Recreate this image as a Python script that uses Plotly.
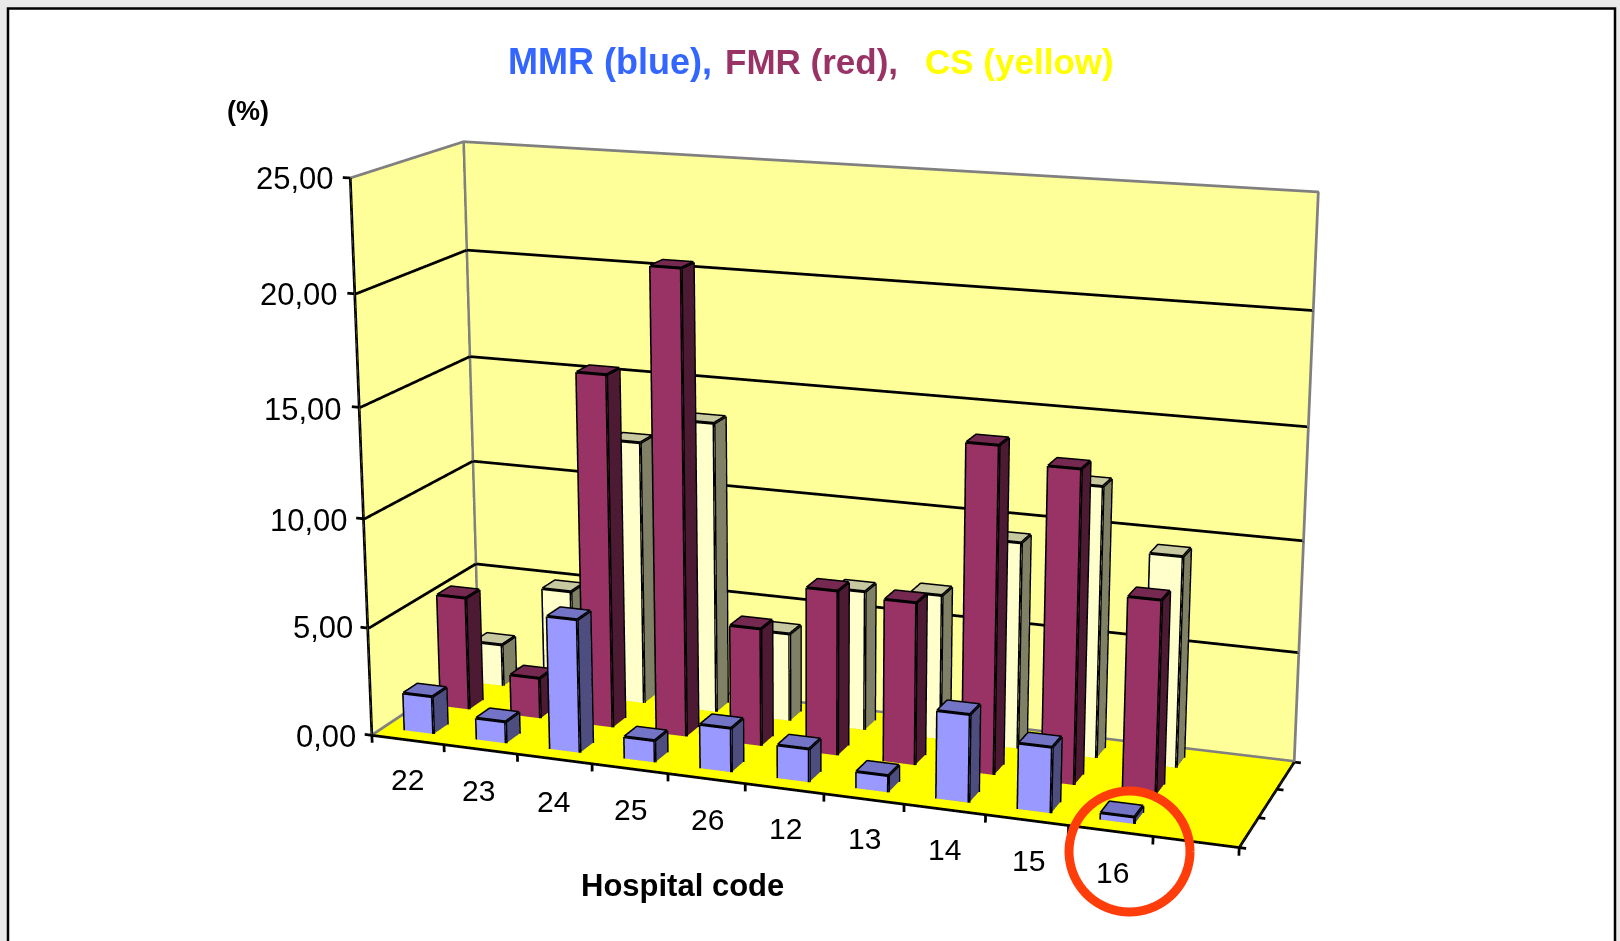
import numpy as np
import plotly.graph_objects as go

# ---- data ----
categories = ["22", "23", "24", "25", "26", "12", "13", "14", "15", "16"]
mmr = [1.75, 1.0, 6.1, 1.0, 2.0, 1.5, 0.75, 3.9, 2.9, 0.3]
fmr = [5.3, 1.9, 16.2, 21.15, 5.4, 7.5, 7.35, 14.6, 13.9, 8.6]
cs = [2.0, 4.95, 12.3, 13.5, 4.1, 6.45, 6.65, 9.4, 12.25, 9.5]
z_ticks = [0, 5, 10, 15, 20, 25]
z_labels = ["0,00", "5,00", "10,00", "15,00", "20,00", "25,00"]
SLOTS = 11  # the category axis keeps one empty slot after the last hospital

W, H = 1620, 941
F = (H / 2) / np.tan(np.pi / 8)
# box corners (x cat, y row, z value) -> page pixel: defines the view of the 3-D box
view_pts = [((0,0,0),(372,736)),((0,0,25),(350,178)),((0,0,5),(368,627)),((0,3,0),(479,666)),
            ((0,3,25),(463,142)),((0,3,5),(474,562)),((SLOTS,3,0),(1295,762)),((SLOTS,3,25),(1319,192)),
            ((SLOTS,3,5),(1298,652)),((SLOTS,0,0),(1239,848))]
rows = []
for w, (u, v) in view_pts:
    X = [w[0], w[1], w[2], 1.0]
    rows.append(X + [0]*4 + [-u*a for a in X])
    rows.append([0]*4 + X + [-v*a for a in X])
P = np.linalg.svd(np.array(rows, float))[2][-1].reshape(3, 4)
P = P * 2.0 / (P[2] @ np.array([5, 1.5, 12.5, 1.0]))
R, D = 4.0, 4.0
SCALE = 0.5

def scene(x, y, z):
    h = P @ np.array([x, y, z, 1.0])
    return ((h[0]/h[2]-W/2)/F*h[2], h[2]-D, -(h[1]/h[2]-H/2)/F*h[2])

def pixel_scene(u, v, w):
    return ((u-W/2)/F*w, w-D, -(v-H/2)/F*w)

def poly_lines(segments, color, width):
    xs, ys, zs = [], [], []
    for seg in segments:
        for p in seg:
            a, b, c = scene(*p)
            xs.append(a); ys.append(b); zs.append(c)
        xs.append(None); ys.append(None); zs.append(None)
    return go.Scatter3d(x=xs, y=ys, z=zs, mode="lines", line=dict(color=color, width=width),
                        hoverinfo="skip", showlegend=False)

def quads_mesh(quads, colors):
    xs, ys, zs, i, j, k, fc = [], [], [], [], [], [], []
    for q, c in zip(quads, colors):
        n = len(xs)
        for p in q:
            a, b, cc = scene(*p)
            xs.append(a); ys.append(b); zs.append(cc)
        i += [n, n]; j += [n+1, n+2]; k += [n+2, n+3]; fc += [c, c]
    return go.Mesh3d(x=xs, y=ys, z=zs, i=i, j=j, k=k, facecolor=fc, flatshading=True,
                     lighting=dict(ambient=1, diffuse=0, specular=0, fresnel=0, roughness=1),
                     hoverinfo="skip", showlegend=False)

traces = []
# walls and floor
traces.append(quads_mesh(
    [[(0,3,0),(SLOTS,3,0),(SLOTS,3,25),(0,3,25)], [(0,0,0),(0,3,0),(0,3,25),(0,0,25)], [(0,0,0),(SLOTS,0,0),(SLOTS,3,0),(0,3,0)]],
    ["#ffff99", "#ffff99", "#ffff00"]))
# gridlines, edges, ticks (lifted a hair off the walls so they are not lost in them)
E1, E2 = 0.015, 0.01
grid = []
for t in z_ticks[1:-1]:
    grid += [[(E1,0,t),(E1,3-E2,t),(SLOTS,3-E2,t)]]
traces.append(poly_lines(grid, "#000000", 5.5))
traces.append(poly_lines([[(0,0,25),(E1,3-E2,25),(SLOTS,3-E2,25),(SLOTS,3-E2,0.05),(E1,3-E2,0.05),(E1,0,0.05)],
                          [(E1,3-E2,0),(E1,3-E2,25)]], "#808080", 5.5))
axes = [[(0,0,25),(0,0,0),(SLOTS,0,0),(SLOTS,3,0)]]
for t in z_ticks:
    axes.append([(-0.1,0,t),(0,0,t)])
for c in range(SLOTS+1):
    axes.append([(c,0,0),(c,0,-0.35)])
for r in range(4):
    axes.append([(SLOTS,r,0),(SLOTS+0.08,r,0)])
traces.append(poly_lines(axes, "#000000", 5.5))

# bars
palette = [("#9999ff","#7474c6","#4d4d80"), ("#993366","#752850","#4d1a33"), ("#ffffcc","#c8c8a0","#808066")]
series = [mmr, fmr, cs]
HW, HD = 0.2, 0.19
quads, cols, edges = [], [], []
for r, vals in enumerate(series):
    yc = r + 0.5
    y0, y1 = yc-HD, yc+HD
    for c, v in enumerate(vals):
        x0, x1 = c+0.5-HW, c+0.5+HW
        a = (x0,y0,0); b=(x1,y0,0); d=(x1,y1,0); e=(x0,y1,0)
        A = (x0,y0,v); B=(x1,y0,v); D2=(x1,y1,v); E=(x0,y1,v)
        quads += [[a,b,B,A],[b,d,D2,B],[A,B,D2,E],[e,d,D2,E],[a,e,E,A]]
        f,t,s = palette[r]
        cols += [f,s,t,f,s]
        edges += [[a,b,d,e,a],[A,B,D2,E,A],[a,A],[b,B],[d,D2],[e,E]]
traces.append(quads_mesh(quads, cols))
traces.append(poly_lines(edges, "#000000", 6))

# red highlight ring, placed nearer than the box
theta = [k*2*np.pi/96 for k in range(97)]
rx, ry, rz = zip(*[pixel_scene(1129.5+60.5*np.cos(t), 851.5+60.5*np.sin(t), 1.0) for t in theta])
traces.append(go.Scatter3d(x=rx, y=ry, z=rz, mode="lines", line=dict(color="#ff3d0a", width=18),
                           hoverinfo="skip", showlegend=False))

FONT = "Liberation Sans, Arial, sans-serif"
def label(text, u, v, size, color="#000000", bold=False, xa="center"):
    t = f"<b>{text}</b>" if bold else text
    return dict(text=t, x=u/W, y=1-v/H, xref="paper", yref="paper", xanchor=xa, yanchor="middle",
                showarrow=False, font=dict(family=FONT, size=size, color=color))

ann = [label("MMR (blue),", 506, 62, 36, "#3366ff", True, "left"),
       label("FMR (red),", 723, 62, 35, "#993366", True, "left"),
       label("CS (yellow)", 923, 62, 35, "#ffff00", True, "left"),
       label("(%)", 248, 111, 27, bold=True),
       label("Hospital code", 682, 885, 31, bold=True)]
zl_pos = [(358,736),(355,627),(350,520),(344,409),(340,294),(336,178)]
for s, (u, v) in zip(z_labels, zl_pos):
    ann.append(label(s, u, v, 31, xa="right"))
cat_pos = [(407,779),(478,790),(553,801),(630,809),(707,819),(785,828),(864,838),(944,849),(1028,860),(1112,872)]
for s, (u, v) in zip(categories, cat_pos):
    ann.append(label(s, u, v, 30))

ax = dict(visible=False, range=[-R, R], autorange=False)
fig = go.Figure(traces)
fig.update_layout(
    width=W, height=H, margin=dict(l=0, r=0, t=0, b=0), paper_bgcolor="#e9e9e9", showlegend=False,
    annotations=ann,
    shapes=[dict(type="rect", xref="paper", yref="paper", x0=8/W, x1=1615/W, y0=-0.05, y1=1-8.5/H,
                 fillcolor="#ffffff", line=dict(color="#000000", width=2.5), layer="below")],
    scene=dict(domain=dict(x=[0,1], y=[0,1]), xaxis=ax, yaxis=ax, zaxis=ax, bgcolor="rgba(0,0,0,0)",
               aspectmode="manual", aspectratio=dict(x=1,y=1,z=1),
               camera=dict(eye=dict(x=0,y=-D/R*SCALE,z=0), center=dict(x=0,y=0,z=0), up=dict(x=0,y=0,z=1),
                           projection=dict(type="perspective"))))
fig.write_html("out.html", config=dict(displayModeBar=False),
               post_script="document.body.style.margin='0';document.body.style.overflow='hidden';")
